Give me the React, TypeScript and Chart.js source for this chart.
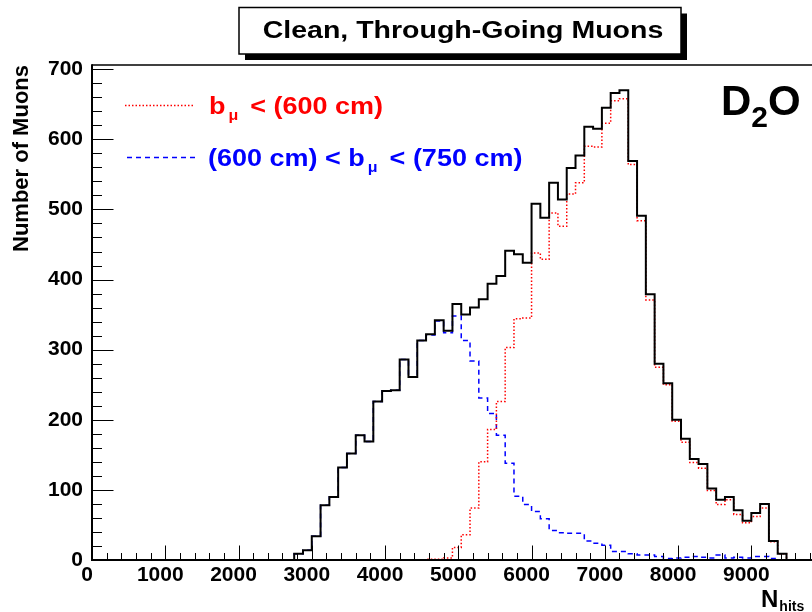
import React, { useEffect, useRef } from "react";
import { Chart, registerables } from "chart.js";

Chart.register(...registerables);

// ---------- data ----------
const BIN_WIDTH = 120; // N_hits per bin, bins start at 0

// all clean through-going muons (black, solid)
const TOTAL = [
  0, 0, 0, 0, 0, 0, 0, 0, 0, 0, 0, 0, 0, 0, 0, 0, 0, 0, 0, 0, 0, 0, 0,
  9, 14, 34, 78, 90, 132, 152, 178, 169, 226, 241, 242, 286, 261, 313, 322, 342, 327,
  365, 350, 360, 372, 394, 405, 441, 436, 424, 508, 488, 538, 514, 559, 577, 618, 615,
  645, 666, 670, 569, 491, 379, 280, 252, 200, 173, 144, 137, 102, 86, 90, 71, 56, 67,
  80, 27, 9, 0, 0, 0,
];

// b_mu < 600 cm (red, dotted)
const INNER = [
  0, 0, 0, 0, 0, 0, 0, 0, 0, 0, 0, 0, 0, 0, 0, 0, 0, 0, 0, 0, 0, 0, 0, 0, 0, 0, 0, 0,
  0, 0, 0, 0, 0, 0, 0, 0, 0, 0,
  1, 1, 3, 18, 36, 74, 140, 186, 226, 303, 344, 345, 438, 429, 495, 476, 522, 538, 590,
  589, 623, 655, 658, 564, 484, 371, 275, 250, 198, 168, 139, 131, 99, 79, 86, 65, 53,
  62, 74, 26, 9, 0, 0, 0,
];

// 600 cm < b_mu < 750 cm (blue, dashed)
const OUTER = [
  0, 0, 0, 0, 0, 0, 0, 0, 0, 0, 0, 0, 0, 0, 0, 0, 0, 0, 0, 0, 0, 0, 0,
  9, 14, 34, 78, 90, 132, 152, 178, 169, 226, 241, 242, 286, 261, 313, 321, 341, 324,
  348, 313, 284, 231, 209, 178, 138, 91, 79, 69, 59, 42, 39, 38, 38, 27, 24, 21, 12, 12,
  9, 7, 7, 5, 2, 3, 4, 5, 4, 3, 7, 3, 4, 3, 5, 5, 2, 0, 0, 0, 0,
];

const X_TICKS = [0, 1000, 2000, 3000, 4000, 5000, 6000, 7000, 8000, 9000];
const Y_TICKS = [0, 100, 200, 300, 400, 500, 600, 700];
const X_MIN = 0;
const X_MAX = 9828;
const Y_MIN = 0;
const Y_MAX = 706;
const X_MINOR_STEP = 200;
const Y_MINOR_STEP = 20;

const TITLE = "Clean, Through-Going Muons";
const Y_TITLE = "Number of Muons";
const LABEL_INNER = ["b", "μ", "< (600 cm)"];
const LABEL_OUTER = ["(600 cm) < b", "μ", "< (750 cm)"];

const FONT = "'Liberation Sans', Arial, Helvetica, sans-serif";

function toSteps(values: number[]) {
  const pts = values.map((v, k) => ({ x: k * BIN_WIDTH, y: v }));
  pts.push({ x: values.length * BIN_WIDTH, y: 0 });
  return pts;
}

function drawText(
  ctx: CanvasRenderingContext2D,
  text: string,
  x: number,
  y: number,
  size: number,
  color: string,
  sy = 1,
  align: CanvasTextAlign = "left"
) {
  ctx.save();
  ctx.font = `bold ${size}px ${FONT}`;
  ctx.fillStyle = color;
  ctx.textAlign = align;
  ctx.textBaseline = "alphabetic";
  ctx.translate(x, y);
  ctx.scale(1, sy);
  ctx.fillText(text, 0, 0);
  const w = ctx.measureText(text).width;
  ctx.restore();
  return w;
}

function drawRich(
  ctx: CanvasRenderingContext2D,
  parts: string[],
  x: number,
  baseline: number,
  color: string
) {
  let cx = x;
  cx += drawText(ctx, parts[0], cx, baseline, 27, color, 0.87);
  cx += 3;
  cx += drawText(ctx, parts[1], cx, baseline + 6, 16, color, 0.87);
  cx += 12;
  drawText(ctx, parts[2], cx, baseline, 27, color, 0.87);
}

const framePlugin = {
  id: "frameTicks",
  afterDatasetsDraw(chart: any) {
    const { ctx, chartArea, scales } = chart;
    const { left, right, top, bottom } = chartArea;
    const x = scales.x;
    const y = scales.y;
    ctx.save();
    ctx.strokeStyle = "#000";
    ctx.lineWidth = 1;
    // x ticks (inward)
    for (let v = X_MIN; v <= X_MAX; v += X_MINOR_STEP) {
      const px = Math.round(x.getPixelForValue(v)) + 0.5;
      const len = v % 1000 === 0 ? 14.5 : 7;
      ctx.beginPath();
      ctx.moveTo(px, bottom);
      ctx.lineTo(px, bottom - len);
      ctx.stroke();
    }
    // y ticks (inward)
    for (let v = Y_MIN; v <= Y_MAX; v += Y_MINOR_STEP) {
      const py = Math.round(y.getPixelForValue(v)) + 0.5;
      const len = v % 100 === 0 ? 21.5 : 10;
      ctx.beginPath();
      ctx.moveTo(left, py);
      ctx.lineTo(left + len, py);
      ctx.stroke();
    }
    // frame
    ctx.lineWidth = 1.5;
    ctx.beginPath();
    ctx.moveTo(left, top);
    ctx.lineTo(right, top);
    ctx.stroke();
    ctx.lineWidth = 2;
    ctx.beginPath();
    ctx.moveTo(left, top - 0.75);
    ctx.lineTo(left, bottom);
    ctx.lineTo(right, bottom);
    ctx.stroke();
    ctx.restore();
  },
  afterDraw(chart: any) {
    const { ctx } = chart;
    ctx.save();
    // title box with shadow
    ctx.fillStyle = "#000";
    ctx.fillRect(245, 13.5, 442, 46.5);
    ctx.fillStyle = "#fff";
    ctx.fillRect(239, 7.5, 442, 46.5);
    ctx.strokeStyle = "#000";
    ctx.lineWidth = 1.5;
    ctx.strokeRect(239, 7.5, 442, 46.5);
    drawText(ctx, TITLE, 463, 38, 28.5, "#000", 0.86, "center");

    // legend
    ctx.lineWidth = 1.5;
    ctx.strokeStyle = "#ff0000";
    ctx.setLineDash([1.5, 2]);
    ctx.beginPath();
    ctx.moveTo(125, 105.5);
    ctx.lineTo(193, 105.5);
    ctx.stroke();
    ctx.strokeStyle = "#0000ff";
    ctx.setLineDash([5, 4]);
    ctx.beginPath();
    ctx.moveTo(127, 157.5);
    ctx.lineTo(195, 157.5);
    ctx.stroke();
    ctx.setLineDash([]);
    drawRich(ctx, LABEL_INNER, 209, 114, "#ff0000");
    drawRich(ctx, LABEL_OUTER, 208, 166, "#0000ff");

    // D2O
    let dx = 721;
    dx += drawText(ctx, "D", dx, 115, 42, "#000");
    dx += drawText(ctx, "2", dx, 127, 30, "#000");
    drawText(ctx, "O", dx, 115, 42, "#000");

    // x axis title N_hits
    const nw = drawText(ctx, "N", 761, 607, 24, "#000");
    drawText(ctx, "hits", 761 + nw + 1, 611, 14, "#000");
    ctx.restore();
  },
};

export default function App() {
  const canvasRef = useRef<HTMLCanvasElement | null>(null);

  useEffect(() => {
    const canvas = canvasRef.current;
    if (!canvas) return;
    const tickFont = { family: FONT, size: 21, weight: "bold" as const };
    const chart = new Chart(canvas, {
      type: "line",
      data: {
        datasets: [
          {
            label: "all",
            data: toSteps(TOTAL),
            borderColor: "#000000",
            borderWidth: 2,
            stepped: "before",
            pointRadius: 0,
            fill: false,
          },
          {
            label: "b < 600 cm",
            data: toSteps(INNER),
            borderColor: "#ff0000",
            borderWidth: 1.5,
            borderDash: [1.5, 2],
            stepped: "before",
            pointRadius: 0,
            fill: false,
          },
          {
            label: "600 cm < b < 750 cm",
            data: toSteps(OUTER),
            borderColor: "#0000ff",
            borderWidth: 1.5,
            borderDash: [5, 4],
            stepped: "before",
            pointRadius: 0,
            fill: false,
          },
        ],
      },
      options: {
        responsive: false,
        animation: false,
        devicePixelRatio: 1,
        layout: { padding: { left: 0, right: 0, top: 65, bottom: 0 } },
        plugins: {
          legend: { display: false },
          tooltip: { enabled: false },
          title: { display: false },
        },
        scales: {
          x: {
            type: "linear",
            min: X_MIN,
            max: X_MAX,
            grid: { display: false, drawTicks: false },
            border: { display: false },
            ticks: {
              font: tickFont,
              color: "#000",
              padding: 3,
              labelOffset: -5,
              maxRotation: 0,
              autoSkip: false,
              callback: (v: any) => String(v),
            },
            afterBuildTicks: (s: any) => {
              s.ticks = X_TICKS.map((v) => ({ value: v }));
            },
            afterFit: (s: any) => {
              s.height = 52;
            },
          },
          y: {
            type: "linear",
            min: Y_MIN,
            max: Y_MAX,
            grid: { display: false, drawTicks: false },
            border: { display: false },
            ticks: {
              font: tickFont,
              color: "#000",
              padding: 9,
              autoSkip: false,
              callback: (v: any) => String(v),
            },
            afterBuildTicks: (s: any) => {
              s.ticks = Y_TICKS.map((v) => ({ value: v }));
            },
            afterFit: (s: any) => {
              s.width = 92;
            },
            title: {
              display: true,
              text: Y_TITLE,
              color: "#000",
              align: "end",
              font: { family: FONT, size: 22, weight: "bold" },
              padding: { top: 9, bottom: 0 },
            },
          },
        },
      },
      plugins: [framePlugin],
    });
    return () => chart.destroy();
  }, []);

  return (
    <div
      style={{
        position: "fixed",
        left: 0,
        top: 0,
        width: 812,
        height: 612,
        background: "#fff",
      }}
    >
      <canvas ref={canvasRef} width={812} height={612} style={{ display: "block" }} />
    </div>
  );
}
